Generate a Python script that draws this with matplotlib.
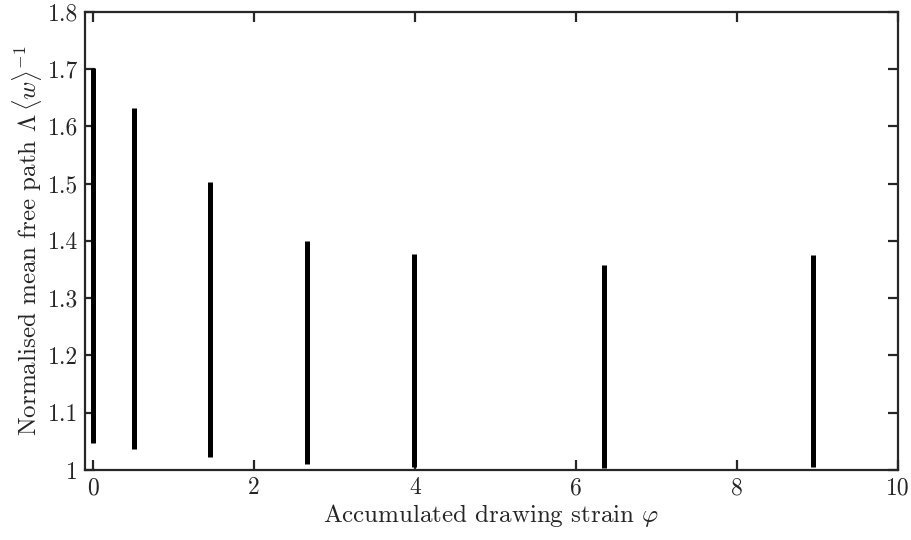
import matplotlib
matplotlib.use("Agg")
import matplotlib.pyplot as plt

# accumulated drawing strain and min / max of the normalised mean free path
strain = [0.0, 0.51, 1.45, 2.66, 3.99, 6.35, 8.95]
mfp_low = [1.048, 1.037, 1.022, 1.010, 1.006, 1.004, 1.006]
mfp_high = [1.702, 1.631, 1.503, 1.400, 1.377, 1.358, 1.375]

xticks = [0, 2, 4, 6, 8, 10]
xtick_labels = ["0", "2", "4", "6", "8", "10"]
yticks = [1.0, 1.1, 1.2, 1.3, 1.4, 1.5, 1.6, 1.7, 1.8]
ytick_labels = ["1", "1.1", "1.2", "1.3", "1.4", "1.5", "1.6", "1.7", "1.8"]

plt.rcParams["font.family"] = "serif"
plt.rcParams["font.serif"] = ["cmr10"]
plt.rcParams["mathtext.fontset"] = "cm"
plt.rcParams["axes.formatter.use_mathtext"] = True

fig = plt.figure(figsize=(9.12, 5.4), dpi=100)
ax = fig.add_axes([0.0932, 0.1296, 0.8914, 0.8488])

ax.vlines(strain, mfp_low, mfp_high, colors="black", linewidth=3.6)

ax.set_xlim(-0.1, 10)
ax.set_ylim(1.0, 1.8)
ax.set_xticks(xticks)
ax.set_xticklabels(xtick_labels)
ax.set_yticks(yticks)
ax.set_yticklabels(ytick_labels)

axis_col = "#262626"
for s in ax.spines.values():
    s.set_color(axis_col)
    s.set_linewidth(1.6)
ax.tick_params(direction="in", length=7, width=1.6, color=axis_col,
               labelsize=17, labelcolor=axis_col, top=True, right=True, pad=5)

ax.set_xlabel(r"Accumulated drawing strain $\varphi$", fontsize=18, color=axis_col, labelpad=2)
ax.set_ylabel(r"Normalised mean free path $\Lambda\,\langle w\rangle^{-1}$", fontsize=18,
              color=axis_col, labelpad=3)

fig.savefig("out.png", dpi=100)
